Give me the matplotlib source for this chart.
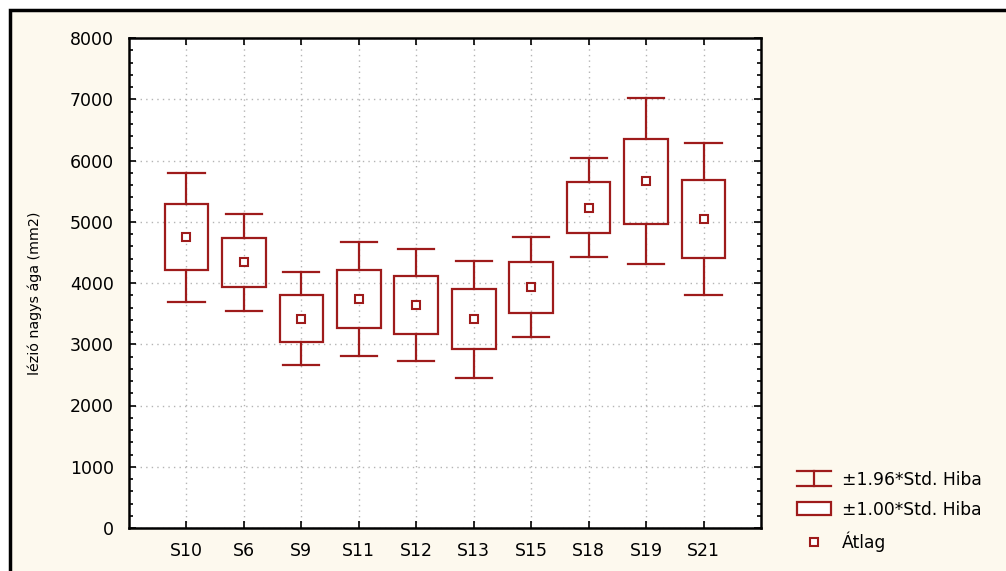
import matplotlib
matplotlib.use('Agg')
import matplotlib.pyplot as plt
from matplotlib.lines import Line2D
from matplotlib.patches import Rectangle
from matplotlib.legend_handler import HandlerBase
from matplotlib.ticker import MultipleLocator

# Group means and standard errors of lesion size (mm2)
groups = ['S10', 'S6', 'S9', 'S11', 'S12', 'S13', 'S15', 'S18', 'S19', 'S21']
means = [4745, 4335, 3420, 3735, 3640, 3405, 3930, 5230, 5660, 5045]
std_err = [540, 400, 385, 475, 470, 490, 415, 415, 690, 630]

RED = '#9e1b1b'
BG = '#fdf9ee'

plt.rcParams['font.family'] = ['DejaVu Sans']

fig = plt.figure(figsize=(10.06, 5.71), dpi=100, facecolor='white')

# Cream panel with a black frame behind the plot
panel = Rectangle((10 / 1006, -0.1), 1.2, (571 - 10) / 571 + 0.1,
                  transform=fig.transFigure, facecolor=BG,
                  edgecolor='black', linewidth=2.5, zorder=-10)
fig.patches.append(panel)

ax = fig.add_axes([129 / 1006, 43 / 571, 632 / 1006, 490 / 571])
ax.set_facecolor('white')

xs = list(range(1, len(groups) + 1))
box_w = 0.76
cap_w = 0.63
for x, m, se in zip(xs, means, std_err):
    lo1, hi1 = m - se, m + se
    lo2, hi2 = m - 1.96 * se, m + 1.96 * se
    ax.plot([x, x], [hi1, hi2], color=RED, lw=1.6, zorder=3)
    ax.plot([x, x], [lo2, lo1], color=RED, lw=1.6, zorder=3)
    ax.plot([x - cap_w / 2, x + cap_w / 2], [hi2, hi2], color=RED, lw=1.6, zorder=3)
    ax.plot([x - cap_w / 2, x + cap_w / 2], [lo2, lo2], color=RED, lw=1.6, zorder=3)
    ax.add_patch(Rectangle((x - box_w / 2, lo1), box_w, hi1 - lo1,
                           facecolor='none', edgecolor=RED, lw=1.6, zorder=3))
ax.plot(xs, means, linestyle='none', marker='s', ms=5.2, mew=1.5,
        mfc='white', mec=RED, zorder=4)

ax.set_xlim(0, 11)
ax.set_ylim(0, 8000)
ax.set_xticks(xs)
ax.set_xticklabels(groups)
ax.yaxis.set_major_locator(MultipleLocator(1000))
ax.yaxis.set_minor_locator(MultipleLocator(200))
ax.tick_params(which='both', direction='in', top=True, right=True,
               color='black', width=1.2)
ax.tick_params(which='major', length=5, labelsize=12.5, pad=11)
ax.tick_params(axis='x', which='major', pad=10)
ax.tick_params(which='minor', length=3)
ax.grid(True, which='major', color='#b4b4b4', linestyle=(0, (1, 3)), lw=1)
ax.set_axisbelow(True)
for sp in ax.spines.values():
    sp.set_linewidth(1.8)

fig.text(35 / 1006, 1 - 293 / 571, 'lézió nagys ága (mm2)', rotation=90,
         ha='center', va='center', fontsize=10.3)


class WhiskerHandler(HandlerBase):
    def create_artists(self, legend, orig_handle, xdescent, ydescent,
                       width, height, fontsize, trans):
        cx = width / 2 - xdescent
        y0 = -ydescent - 0.1 * height
        y1 = -ydescent + 1.1 * height
        arts = [
            Line2D([cx, cx], [y0, y1], color=RED, lw=1.6),
            Line2D([0, width], [y0, y0], color=RED, lw=1.6),
            Line2D([0, width], [y1, y1], color=RED, lw=1.6),
        ]
        for a in arts:
            a.set_transform(trans)
        return arts


class BoxHandler(HandlerBase):
    def create_artists(self, legend, orig_handle, xdescent, ydescent,
                       width, height, fontsize, trans):
        r = Rectangle((-xdescent, -ydescent), width, height * 1.05,
                      facecolor='white', edgecolor=RED, lw=1.6,
                      transform=trans)
        return [r]


whisker_h = Line2D([], [], color=RED)
box_h = Rectangle((0, 0), 1, 1)
mean_h = Line2D([], [], linestyle='none', marker='s', ms=5.2, mew=1.5,
                mfc='white', mec=RED)
fig.legend([whisker_h, box_h, mean_h],
           ['±1.96*Std. Hiba', '±1.00*Std. Hiba', 'Átlag'],
           handler_map={whisker_h: WhiskerHandler(), box_h: BoxHandler()},
           loc='upper left', bbox_to_anchor=(788 / 1006, 1 - 462 / 571),
           frameon=False, fontsize=12.3, handlelength=2.0,
           handletextpad=0.65, labelspacing=0.72, borderpad=0)

fig.savefig('out.png', dpi=100, facecolor=fig.get_facecolor())
